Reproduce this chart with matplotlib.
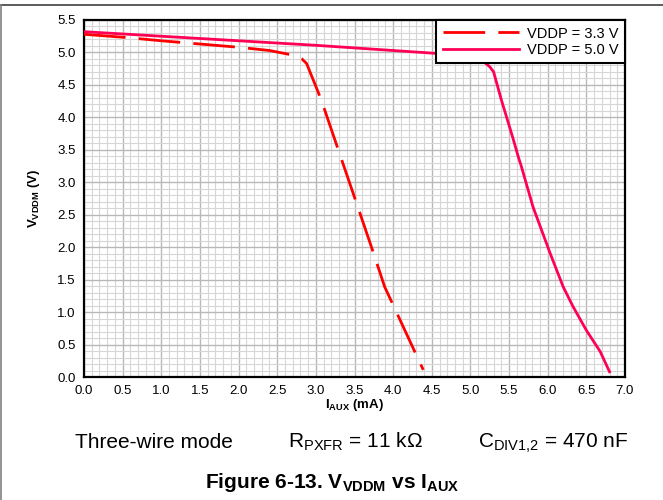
import matplotlib
matplotlib.use("Agg")
from matplotlib import pyplot as plt
from matplotlib.lines import Line2D
from matplotlib.ticker import MultipleLocator
import numpy as np

# Figure 6-13 data
i_aux_33 = [0.0, 0.55, 1.0, 1.5, 2.0, 2.4, 2.7, 2.82, 2.88, 3.07, 3.29, 3.52, 3.74, 3.89, 3.98, 4.28, 4.39]
v_vddm_33 = [5.28, 5.23, 5.18, 5.13, 5.08, 5.03, 4.96, 4.90, 4.83, 4.27, 3.50, 2.70, 1.93, 1.39, 1.16, 0.39, 0.11]

i_aux_50 = [0.0, 1.0, 2.0, 3.0, 4.0, 4.5, 5.0, 5.15, 5.25, 5.30, 5.40, 5.55, 5.62, 5.66, 5.81,
            6.03, 6.20, 6.33, 6.50, 6.68, 6.80]
v_vddm_50 = [5.32, 5.25, 5.18, 5.11, 5.03, 4.99, 4.95, 4.88, 4.78, 4.70, 4.27, 3.68, 3.39, 3.24, 2.62,
             1.91, 1.39, 1.08, 0.72, 0.39, 0.08]

series_labels = ["VDDP = 3.3 V", "VDDP = 5.0 V"]
x_ticks = np.arange(0, 7.01, 0.5)
y_ticks = np.arange(0, 5.51, 0.5)

plt.rcParams["font.family"] = ["Liberation Sans", "DejaVu Sans"]
plt.rcParams["mathtext.fontset"] = "custom"
plt.rcParams["mathtext.rm"] = "Liberation Sans"
plt.rcParams["mathtext.it"] = "Liberation Sans"
plt.rcParams["mathtext.bf"] = "Liberation Sans:bold"
plt.rcParams["lines.scale_dashes"] = False

fig = plt.figure(figsize=(6.63, 5.0), dpi=100)
ax = fig.add_axes([84 / 663, 1 - 377 / 500, 541 / 663, 357 / 500])

ax.plot(i_aux_33, v_vddm_33, color="#ff0000", lw=2.0, dashes=(30, 9.5),
        label=series_labels[0], zorder=3)
ax.plot(i_aux_50, v_vddm_50, color="#ff0055", lw=2.0, label=series_labels[1], zorder=3)

ax.set_xlim(0, 7)
ax.set_ylim(0, 5.5)
ax.set_xticks(x_ticks)
ax.set_yticks(y_ticks)
ax.set_xticklabels(["%.1f" % v for v in x_ticks])
ax.set_yticklabels(["%.1f" % v for v in y_ticks])
ax.xaxis.set_minor_locator(MultipleLocator(0.1))
ax.yaxis.set_minor_locator(MultipleLocator(0.1))
ax.tick_params(which="both", length=0, labelsize=9.5, pad=6)

ax.grid(which="major", color="#b8b8b8", lw=1.0, zorder=0)
ax.grid(which="minor", color="#d6d6d6", lw=0.8, zorder=0)
ax.set_axisbelow(True)
for sp in ax.spines.values():
    sp.set_linewidth(1.6)
    sp.set_color("black")

ax.set_xlabel(r"I$_{\mathbf{AUX}}$ (mA)", fontsize=9.5, fontweight="bold", labelpad=0)
ax.set_ylabel(r"V$_{\mathbf{VDDM}}$ (V)", fontsize=9.5, fontweight="bold", labelpad=11)

leg = ax.legend(loc="upper right", borderaxespad=0, fontsize=10.5, handlelength=5.2,
                handletextpad=0.55, labelspacing=0.15, borderpad=0.45, fancybox=False,
                framealpha=1, edgecolor="black")
leg.get_frame().set_linewidth(1.5)
leg.set_zorder(5)

# notes under the chart
fig.text(75 / 663, 1 - 448 / 500, "Three-wire mode", fontsize=15, va="baseline")
fig.text(288 / 663, 1 - 448 / 500, r"R$_{\mathrm{PXFR}}$ = 11 k$\Omega$", fontsize=15, va="baseline")
fig.text(478 / 663, 1 - 448 / 500, r"C$_{\mathrm{DIV1{,}2}}$ = 470 nF", fontsize=15, va="baseline")
fig.text(332 / 663, 1 - 488 / 500, r"Figure 6-13. V$_{\mathbf{VDDM}}$ vs I$_{\mathbf{AUX}}$",
         fontsize=15, fontweight="bold", ha="center", va="baseline")

# page frame lines
fig.add_artist(Line2D([0, 1], [1 - 5 / 500, 1 - 5 / 500], color="#404040", lw=1.2))
fig.add_artist(Line2D([0.5 / 663, 0.5 / 663], [0, 1 - 5 / 500], color="#808080", lw=1.2))

fig.savefig("out.png", dpi=100)
